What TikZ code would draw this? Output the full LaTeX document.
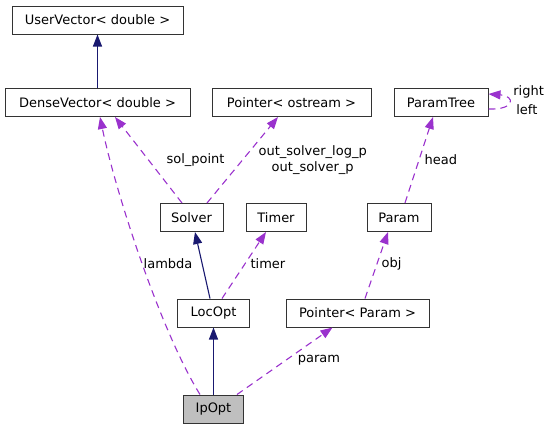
\documentclass[tikz,border=0pt]{standalone}
\usepackage{fontspec}
\setmainfont{DejaVu Sans}
\usetikzlibrary{arrows.meta, positioning}
\definecolor{inheritblue}{RGB}{25,25,112}
\definecolor{usepurple}{RGB}{154,50,205}
\tikzstyle{classbox} = [rectangle, minimum height=28pt, inner sep=0pt, text centered, draw=black!80, line width=1pt, fill=white]
\tikzstyle{inherit} = [line width=1.1pt, draw=inheritblue, -{Triangle[length=12pt,width=9pt]}]
\tikzstyle{usage} = [line width=1.1pt, draw=usepurple, dash pattern=on 7pt off 5pt, -{Triangle[length=12pt,width=9pt]}]
\tikzstyle{edgelabel} = [inner sep=0pt, text=black, anchor=west, align=center]
\tikzset{
  font={\fontsize{13pt}{16.5}\selectfont}}

\begin{document}
\begin{tikzpicture}[node distance = 95pt, x=1pt, y=-1pt]
    \useasboundingbox (0,0) rectangle (549,429);

    \node (densevector) [classbox, minimum width=185pt] at (97.5,102.5) {DenseVector< double >};
    \node (uservector) [classbox, above of=densevector, yshift=-12.5pt, minimum width=171pt] {UserVector< double >};
    \node (ostream) [classbox, right of=densevector, xshift=99pt, minimum width=159pt] {Pointer< ostream >};
    \node (paramtree) [classbox, right of=ostream, xshift=54.5pt, minimum width=94pt] {ParamTree};
    \node (solver) [classbox, below of=densevector, xshift=94pt, yshift=-20pt, minimum width=63pt] {Solver};
    \node (timer) [classbox, right of=solver, xshift=-10.5pt, minimum width=60pt] {Timer};
    \node (param) [classbox, right of=timer, xshift=28pt, minimum width=64pt] {Param};
    \node (locopt) [classbox, below of=solver, xshift=22pt, yshift=-0.5pt, minimum width=72pt] {LocOpt};
    \node (ptrparam) [classbox, right of=locopt, xshift=49pt, minimum width=143pt] {Pointer< Param >};
    \node (ipopt) [classbox, below of=locopt, yshift=-1pt, minimum width=60pt, fill=black!25] {IpOpt};

    \draw [inherit] (densevector) -- (uservector);
    \draw [inherit] ([xshift=-3.5pt]locopt.north) -- ([xshift=3.5pt]solver.south);
    \draw [inherit] (ipopt) -- (locopt);

    \draw [usage] ([xshift=-9.5pt]solver.north) -- node[edgelabel, xshift=17.5pt] {sol\_point} ([xshift=17.5pt]densevector.south);
    \draw [usage] ([xshift=15.5pt]solver.north) -- node[edgelabel, xshift=15.5pt] {out\_solver\_log\_p\\out\_solver\_p} ([xshift=-13.5pt]ostream.south);
    \draw [usage] ([xshift=6pt]param.north) -- node[edgelabel, xshift=5pt] {head} ([xshift=-8pt]paramtree.south);
    \draw [usage] ([yshift=-6.5pt]paramtree.east) .. controls +(27,1) and +(27,2) .. node[edgelabel, xshift=4pt, yshift=10.5pt] {right} node[edgelabel, xshift=7pt, yshift=-7.5pt] {left} ([yshift=8.5pt]paramtree.east);
    \draw [usage] ([xshift=-13.5pt]ipopt.north) .. controls (160,330) and (115,190) .. node[edgelabel, xshift=2.5pt, yshift=-5pt] {lambda} ([xshift=2.5pt]densevector.south);
    \draw [usage] ([xshift=8.5pt]locopt.north) -- node[edgelabel, xshift=6pt, yshift=1.5pt] {timer} ([xshift=-10pt]timer.south);
    \draw [usage] ([xshift=7.5pt]ptrparam.north) -- node[edgelabel, xshift=4.5pt, yshift=1.5pt] {obj} ([xshift=-11pt]param.south);
    \draw [usage] ([xshift=23.5pt]ipopt.north) -- node[edgelabel, xshift=12.5pt, yshift=1pt] {param} ([xshift=-25pt]ptrparam.south);
\end{tikzpicture}
\end{document}
